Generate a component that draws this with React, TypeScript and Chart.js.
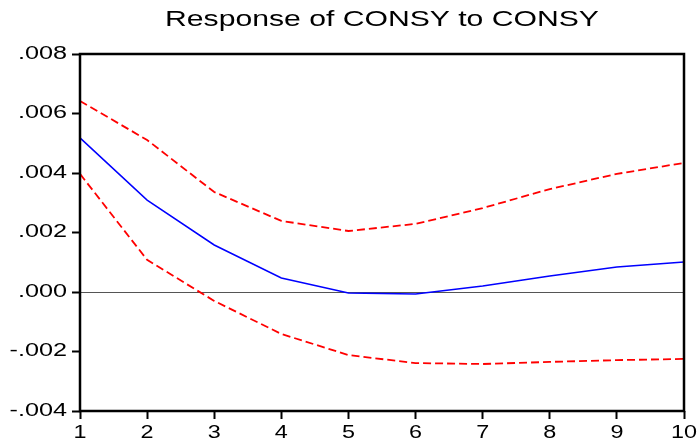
import React, { useEffect, useRef } from "react";
import { Chart, registerables } from "chart.js";

Chart.register(...registerables);

const periods = ["1", "2", "3", "4", "5", "6", "7", "8", "9", "10"];
const response = [0.00518, 0.00309, 0.00158, 0.00047, -0.00003, -0.00007, 0.0002, 0.00054, 0.00084, 0.00101];
const upperBand = [0.00642, 0.00511, 0.00336, 0.00239, 0.00205, 0.00229, 0.00282, 0.00346, 0.00397, 0.00434];
const lowerBand = [0.00397, 0.00108, -0.0003, -0.00141, -0.00212, -0.00239, -0.00242, -0.00235, -0.00229, -0.00225];
const yMin = -0.004;
const yMax = 0.008;
const yStep = 0.002;
const titleText = "Response of CONSY to CONSY";

function fmtY(v: number): string {
  const n = Math.round(Math.abs(v) * 1000);
  const s = "." + String(n).padStart(3, "0");
  return (v < -1e-9 ? "-" : "") + s;
}

function stretchText(ctx: CanvasRenderingContext2D, text: string, x: number, y: number, sx: number, align: CanvasTextAlign, baseline: CanvasTextBaseline, font: string) {
  ctx.save();
  ctx.translate(x, y);
  ctx.scale(sx, 1);
  ctx.font = font;
  ctx.fillStyle = "#000";
  ctx.textAlign = align;
  ctx.textBaseline = baseline;
  ctx.fillText(text, 0, 0);
  ctx.restore();
}

const textPlugin = {
  id: "evText",
  afterDraw(chart: any) {
    const ctx: CanvasRenderingContext2D = chart.ctx;
    const area = chart.chartArea;
    ctx.save();
    ctx.strokeStyle = "#000";
    ctx.lineWidth = 2.5;
    ctx.strokeRect(area.left, area.top, area.right - area.left, area.bottom - area.top);
    ctx.restore();
    const tickFont = "18px 'Liberation Sans', Arial, sans-serif";
    const ys = chart.scales.y;
    ys.ticks.forEach((t: any, i: number) => {
      const py = ys.getPixelForTick(i);
      stretchText(ctx, fmtY(t.value), area.left - 13, py, 1.4, "right", "middle", tickFont);
    });
    const xs = chart.scales.x;
    xs.ticks.forEach((t: any, i: number) => {
      const px = xs.getPixelForTick(i);
      stretchText(ctx, periods[i], px, area.bottom + 27, 1.3, "center", "alphabetic", tickFont);
    });
    stretchText(ctx, titleText, (area.left + area.right) / 2, 26, 1.37, "center", "alphabetic", "22px 'Liberation Sans', Arial, sans-serif");
  },
};

export default function App() {
  const ref = useRef<HTMLCanvasElement>(null);
  useEffect(() => {
    if (!ref.current) return;
    const chart = new Chart(ref.current, {
      type: "line",
      data: {
        labels: periods,
        datasets: [
          { data: upperBand, borderColor: "#ff0000", borderWidth: 1.8, borderDash: [8, 4], pointRadius: 0, tension: 0, fill: false },
          { data: lowerBand, borderColor: "#ff0000", borderWidth: 1.8, borderDash: [8, 4], pointRadius: 0, tension: 0, fill: false },
          { data: response, borderColor: "#0000ff", borderWidth: 1.5, pointRadius: 0, tension: 0, fill: false },
        ],
      },
      options: {
        animation: false,
        responsive: false,
        maintainAspectRatio: false,
        layout: { padding: { left: 8, right: 16, top: 54, bottom: 0 } },
        plugins: { legend: { display: false }, title: { display: false }, tooltip: { enabled: false } },
        scales: {
          x: {
            type: "category",
            offset: false,
            border: { display: false },
            grid: { drawOnChartArea: false, tickColor: "#000", tickLength: 8, tickWidth: 2 },
            ticks: { display: false },
            afterFit: (s: any) => { s.height = 35; },
          },
          y: {
            min: yMin,
            max: yMax,
            border: { display: false },
            grid: {
              color: (c: any) => (c.tick && Math.abs(c.tick.value) < 1e-9 ? "#555" : "rgba(0,0,0,0)"),
              lineWidth: 1,
              tickColor: "#000",
              tickLength: 8,
              tickWidth: 2,
            },
            ticks: { display: false, stepSize: yStep },
            afterFit: (s: any) => { s.width = 72; },
          },
        },
      },
      plugins: [textPlugin],
    });
    return () => chart.destroy();
  }, []);
  return (
    <div style={{ position: "fixed", left: 0, top: 0, width: 700, height: 446, background: "#fff" }}>
      <canvas ref={ref} width={700} height={446} style={{ display: "block" }} />
    </div>
  );
}
